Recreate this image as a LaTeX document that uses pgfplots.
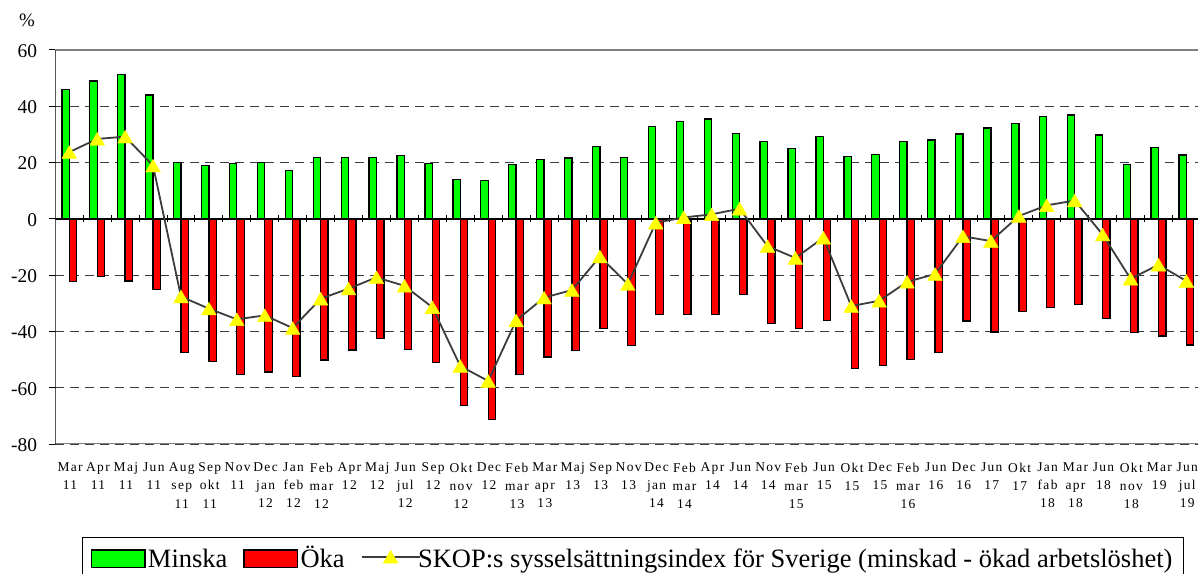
\documentclass[border=0pt]{standalone}
\usepackage{pgfplots}
\pgfplotsset{compat=1.18}
\usepackage{pgfplotstable}
\usepackage{fontspec}
\setmainfont{Liberation Serif}
\newfontfamily\labfont[LetterSpace=10]{Liberation Serif}

\definecolor{barGreen}{RGB}{0,255,0}
\definecolor{barRed}{RGB}{255,0,0}
\definecolor{lineGray}{RGB}{60,60,60}
\definecolor{frameGray}{RGB}{128,128,128}
\definecolor{markYellow}{RGB}{255,255,0}

\pgfplotsset{
  barlegend/.style={legend image code/.code={\draw[##1, line width=1.3bp] (0bp,0bp) rectangle (53.3bp,17.4bp);}},
  linelegend/.style={legend image code/.code={\draw[mark repeat=2, mark phase=2, ##1] plot coordinates {(0bp,10.5bp) (29bp,10.5bp) (58bp,10.5bp)};}},
}

\pgfplotstableread{
x minska oka index
0 46.0 -22.3 23.7
1 49.0 -20.6 28.4
2 51.3 -22.1 29.2
3 44.0 -25.1 18.9
4 19.9 -47.5 -27.6
5 18.9 -50.8 -31.9
6 19.6 -55.3 -35.7
7 20.1 -54.4 -34.3
8 17.1 -55.9 -38.8
9 21.7 -50.1 -28.4
10 21.8 -46.6 -24.8
11 21.7 -42.5 -20.8
12 22.6 -46.4 -23.8
13 19.7 -51.1 -31.4
14 14.1 -66.4 -52.3
15 13.7 -71.3 -57.6
16 19.2 -55.3 -36.1
17 21.1 -49.1 -28.0
18 21.6 -46.9 -25.3
19 25.6 -39.0 -13.4
20 21.8 -45.0 -23.2
21 32.7 -34.1 -1.4
22 34.6 -34.1 0.5
23 35.5 -33.9 1.6
24 30.4 -26.8 3.6
25 27.4 -37.1 -9.7
26 25.0 -38.9 -13.9
27 29.3 -36.0 -6.7
28 22.1 -53.1 -31.0
29 22.9 -52.0 -29.1
30 27.5 -49.9 -22.4
31 28.0 -47.6 -19.6
32 30.1 -36.3 -6.2
33 32.3 -40.2 -7.9
34 33.9 -32.9 1.0
35 36.4 -31.6 4.8
36 36.9 -30.4 6.5
37 29.8 -35.4 -5.6
38 19.2 -40.5 -21.3
39 25.3 -41.6 -16.3
40 22.7 -44.8 -22.1
}\data

\begin{document}
\begin{tikzpicture}
\begin{axis}[
  at={(55.3bp,130bp)}, anchor=south west,
  scale only axis, width=1145.1bp, height=394bp,
  xmin=-0.5, xmax=40.5, ymin=-80, ymax=60,
  axis line style={draw=none},
  ytick={-80,-60,-40,-20,0,20,40,60},
  yticklabels={-80,-60,-40,-20,0,20,40,60},
  ytick pos=left, tick align=outside, major tick length=6.5bp,
  y tick style={black, line width=1bp},
  yticklabel style={font=\fontsize{19.5}{20}\selectfont, inner sep=0pt, anchor=east, xshift=-11.5bp, yshift=-1bp},
  xtick={0,...,40},
  xtick pos=bottom,
  x tick style={draw=none},
  xticklabels={{Mar\\11},{Apr\\11},{Maj\\11},{Jun\\11},{Aug\\sep\\11},{Sep\\okt\\11},{Nov\\11},{Dec\\jan\\12},{Jan\\feb\\12},{Feb\\mar\\12},{Apr\\12},{Maj\\12},{Jun\\jul\\12},{Sep\\12},{Okt\\nov\\12},{Dec\\12},{Feb\\mar\\13},{Mar\\apr\\13},{Maj\\13},{Sep\\13},{Nov\\13},{Dec\\jan\\14},{Feb\\mar\\14},{Apr\\14},{Jun\\14},{Nov\\14},{Feb\\mar\\15},{Jun\\15},{Okt\\15},{Dec\\15},{Feb\\mar\\16},{Jun\\16},{Dec\\16},{Jun\\17},{Okt\\17},{Jan\\fab\\18},{Mar\\apr\\18},{Jun\\18},{Okt\\nov\\18},{Mar\\19},{Jun\\jul\\19}},
  xticklabel style={align=center, font=\labfont\fontsize{13.5}{18.3}\selectfont, anchor=north, inner sep=0pt, yshift=-12bp, xshift=0.8bp},
  ymajorgrids,
  grid style={lineGray, line width=0.9bp, dash pattern=on 9bp off 6bp},
  legend columns=-1,
  legend style={at={(0.02305,-0.2368)}, anchor=north west, draw=black, line width=1bp,
    font=\fontsize{26.6}{30}\selectfont, inner xsep=8.7bp, inner ysep=6bp,
    cells={anchor=base west, inner sep=0pt},
    /tikz/every odd column/.append style={column sep=0.5bp},
    /tikz/every even column/.append style={column sep=14bp}},
]
\addplot[ybar, bar width=7.4bp, bar shift=-3.7bp, fill=barGreen, draw=black, line width=1.3bp, barlegend]
  table[x=x, y=minska]{\data};
\addlegendentry{Minska}
\addplot[ybar, bar width=7.4bp, bar shift=3.7bp, fill=barRed, draw=black, line width=1.3bp, barlegend]
  table[x=x, y=oka]{\data};
\addlegendentry{Öka\hspace{-12bp}}
\draw[black, line width=1.3bp] (axis cs:-0.5,0) -- (axis cs:40.5,0);
\pgfplotsinvokeforeach{0.5,1.5,...,39.5}{
  \draw[black, line width=0.9bp] ([yshift=-3.5bp]axis cs:#1,0) -- ([yshift=3.5bp]axis cs:#1,0);
}
\draw[frameGray, line width=1.7bp] (rel axis cs:0,1) -- (rel axis cs:1,1);
\draw[frameGray, line width=1.7bp] (rel axis cs:0,0) -- (rel axis cs:1,0);
\draw[black, line width=1.3bp] (rel axis cs:0,0) -- (rel axis cs:0,1);
\addplot[lineGray, line width=1.8bp, mark=triangle*, mark size=8.5bp,
  mark options={fill=markYellow, draw=markYellow, line width=0.4bp, yshift=-2.1bp}, linelegend]
  table[x=x, y=index]{\data};
\addlegendentry{\hspace{-5bp}SKOP:s sysselsättningsindex för Sverige (minskad - ökad arbetslöshet)\hspace{6bp}}
\end{axis}
\node[font=\fontsize{19}{20}\selectfont] at (27bp,554bp) {\%};
\pgfresetboundingbox
\useasboundingbox (0,0) rectangle (1198bp,574bp);
\end{tikzpicture}
\end{document}
